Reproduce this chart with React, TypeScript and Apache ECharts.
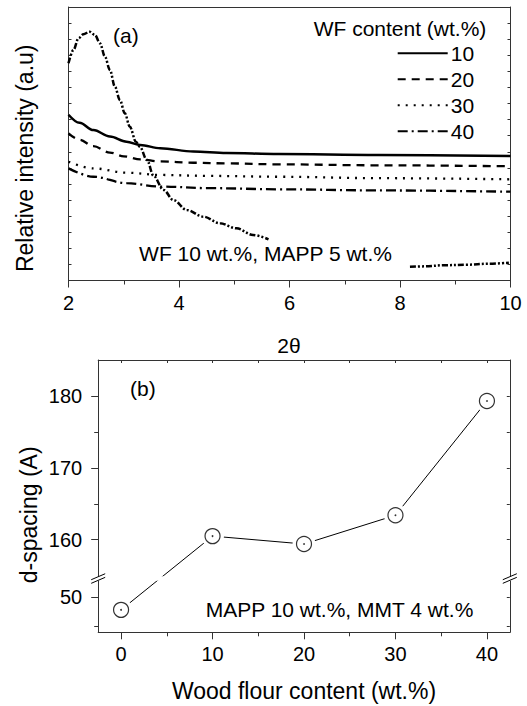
import React, { useEffect, useRef } from "react";
import * as echarts from "echarts";

const FONT = '"Liberation Sans", Arial, Helvetica, sans-serif';

// ---------- Panel (a): XRD patterns ----------
const THETA_MIN = 2;
const THETA_MAX = 10;
const THETA_STEP = 2;
const INT_MIN = 0;
const INT_MAX = 17;

const XRD_WF10: number[][] = [
  [2.0, 10.3], [2.2, 9.8], [2.45, 9.35], [2.75, 8.95], [3.05, 8.63], [3.3, 8.42],
  [3.66, 8.22], [4.26, 8.02], [4.86, 7.92], [5.8, 7.86], [7.6, 7.8], [10.0, 7.74],
];
const XRD_WF20: number[][] = [
  [2.0, 9.15], [2.2, 8.75], [2.45, 8.35], [2.75, 7.95], [3.0, 7.72], [3.3, 7.53],
  [3.66, 7.4], [4.26, 7.32], [4.86, 7.28], [5.8, 7.22], [7.6, 7.16], [10.0, 7.1],
];
const XRD_WF30: number[][] = [
  [2.0, 7.38], [2.45, 6.97], [3.05, 6.7], [3.66, 6.56], [4.56, 6.5], [5.8, 6.45],
  [7.6, 6.36], [10.0, 6.29],
];
const XRD_WF40: number[][] = [
  [2.0, 6.97], [2.45, 6.45], [3.05, 6.05], [3.66, 5.84], [4.56, 5.74], [5.8, 5.67],
  [7.6, 5.6], [10.0, 5.52],
];
const XRD_MAPP5_A: number[][] = [
  [2.0, 13.5], [2.09, 14.33], [2.18, 15.05], [2.27, 15.3], [2.38, 15.46], [2.48, 15.26],
  [2.57, 14.74], [2.66, 13.91], [2.75, 13.08], [2.84, 12.05], [2.93, 11.22], [3.02, 10.39],
  [3.11, 9.56], [3.22, 8.63], [3.29, 8.32], [3.42, 7.49], [3.54, 6.5], [3.72, 5.63],
  [3.9, 5.0], [4.14, 4.38], [4.44, 3.97], [4.74, 3.56], [5.04, 3.24], [5.34, 2.83],
  [5.62, 2.56],
];
const XRD_MAPP5_B: number[][] = [
  [8.18, 0.85], [8.45, 0.88], [8.8, 0.95], [9.2, 0.98], [9.6, 1.04], [9.97, 1.1],
];
const LEGEND_NAMES = ["10", "20", "30", "40"];

// ---------- Panel (b): d-spacing ----------
const WF_CONTENT = [0, 10, 20, 30, 40];
const D_SPACING = [47.8, 160.5, 159.4, 163.4, 179.3];
const B_X_MIN = -2.5;
const B_X_MAX = 42.5;
const B_X_MAJOR = [0, 10, 20, 30, 40];
const B_X_MINOR = [5, 15, 25, 35];
const B_Y_MAJOR = [50, 160, 170, 180];
const B_Y_MINOR = [45, 165, 175];
const B_Y_LOW_MIN = 43.9;
const B_Y_HIGH_MIN = 154.6; // axis break
const B_Y_HIGH_MAX = 185;

// broken axis: lower segment (around 50) is drawn just below the upper one
const LOWER_REF = 50;
const LOWER_AT = 152;
const LOWER_SCALE = 0.8;
const toV = (v: number) => (v > 100 ? v : LOWER_AT + (v - LOWER_REF) * LOWER_SCALE);
const fromV = (v: number) => (v >= B_Y_HIGH_MIN - 0.01 ? v : LOWER_REF + (v - LOWER_AT) / LOWER_SCALE);

const AXIS_COLOR = "#333";

function buildOption(): any {
  const axisLine = { show: true, onZero: false, lineStyle: { color: AXIS_COLOR, width: 1 } };
  const lineSeries = (name: string, data: number[][], type: any, width = 2.3) => ({
    name,
    type: "line",
    xAxisIndex: 0,
    yAxisIndex: 0,
    data,
    symbol: "none",
    showSymbol: false,
    smooth: 0.35,
    smoothMonotone: "x",
    lineStyle: { color: "#000", width, type },
    itemStyle: { color: "#000" },
    z: 3,
  });
  const bData = WF_CONTENT.map((x, i) => [x, toV(D_SPACING[i])]);
  return {
    animation: false,
    backgroundColor: "#fff",
    textStyle: { fontFamily: FONT, color: "#000" },
    grid: [
      { left: 68.5, top: 7, width: 442, height: 273.5, outerBoundsMode: "none", containLabel: false },
      { left: 98.2, top: 360, width: 411.6, height: 272.3, outerBoundsMode: "none", containLabel: false },
    ],
    legend: {
      data: LEGEND_NAMES,
      orient: "vertical",
      left: 396.7,
      top: 42.8,
      padding: 0,
      itemWidth: 50,
      itemHeight: 14,
      itemGap: 5,
      selectedMode: false,
      itemStyle: { opacity: 0, borderWidth: 0 },
      textStyle: { fontSize: 21, fontFamily: FONT, color: "#000", lineHeight: 21, padding: [0, 0, 0, -2] },
    },
    xAxis: [
      {
        type: "value", gridIndex: 0, position: "bottom", min: THETA_MIN, max: THETA_MAX, interval: THETA_STEP,
        axisLine,
        axisTick: { show: true, inside: false, length: 7, lineStyle: { color: AXIS_COLOR } },
        minorTick: { show: true, splitNumber: 2, length: 4, lineStyle: { color: AXIS_COLOR } },
        axisLabel: { fontSize: 20, fontFamily: FONT, color: "#000", margin: 12 },
        splitLine: { show: false },
      },
      {
        type: "value", gridIndex: 0, position: "top", min: THETA_MIN, max: THETA_MAX,
        axisLine, axisTick: { show: false }, axisLabel: { show: false }, splitLine: { show: false },
      },
      {
        type: "value", gridIndex: 1, position: "bottom", min: B_X_MIN, max: B_X_MAX,
        axisLine,
        axisTick: { show: true, inside: false, length: 7, customValues: B_X_MAJOR, lineStyle: { color: AXIS_COLOR } },
        axisLabel: { customValues: B_X_MAJOR, fontSize: 20, fontFamily: FONT, color: "#000", margin: 12 },
        splitLine: { show: false },
      },
      {
        type: "value", gridIndex: 1, position: "bottom", min: B_X_MIN, max: B_X_MAX,
        axisLine: { show: false, onZero: false },
        axisTick: { show: true, inside: false, length: 4, customValues: B_X_MINOR, lineStyle: { color: AXIS_COLOR } },
        axisLabel: { show: false }, splitLine: { show: false },
      },
      {
        type: "value", gridIndex: 1, position: "top", min: B_X_MIN, max: B_X_MAX,
        axisLine,
        axisTick: { show: true, inside: true, length: 3, customValues: [...B_X_MAJOR, ...B_X_MINOR], lineStyle: { color: AXIS_COLOR } },
        axisLabel: { show: false }, splitLine: { show: false },
      },
    ],
    yAxis: [
      {
        type: "value", gridIndex: 0, position: "left", min: INT_MIN, max: INT_MAX, interval: 1,
        axisLine, axisTick: { show: true, inside: true, length: 3, lineStyle: { color: AXIS_COLOR } },
        axisLabel: { show: false }, splitLine: { show: false },
      },
      {
        type: "value", gridIndex: 0, position: "right", min: INT_MIN, max: INT_MAX, interval: 1,
        axisLine, axisTick: { show: true, inside: true, length: 3, lineStyle: { color: AXIS_COLOR } },
        axisLabel: { show: false }, splitLine: { show: false },
      },
      {
        type: "value", gridIndex: 1, position: "left", min: toV(B_Y_LOW_MIN), max: B_Y_HIGH_MAX,
        axisLine,
        axisTick: { show: true, inside: false, length: 7, customValues: B_Y_MAJOR.map(toV), lineStyle: { color: AXIS_COLOR } },
        axisLabel: {
          customValues: B_Y_MAJOR.map(toV), fontSize: 20, fontFamily: FONT, color: "#000", margin: 16,
          formatter: (v: number) => String(Math.round(fromV(v))),
        },
        splitLine: { show: false },
      },
      {
        type: "value", gridIndex: 1, position: "left", min: toV(B_Y_LOW_MIN), max: B_Y_HIGH_MAX,
        axisLine: { show: false, onZero: false },
        axisTick: { show: true, inside: false, length: 4, customValues: B_Y_MINOR.map(toV), lineStyle: { color: AXIS_COLOR } },
        axisLabel: { show: false }, splitLine: { show: false },
      },
      {
        type: "value", gridIndex: 1, position: "right", min: toV(B_Y_LOW_MIN), max: B_Y_HIGH_MAX,
        axisLine,
        axisTick: { show: true, inside: true, length: 3, customValues: [...B_Y_MAJOR, ...B_Y_MINOR].map(toV), lineStyle: { color: AXIS_COLOR } },
        axisLabel: { show: false }, splitLine: { show: false },
      },
    ],
    series: [
      lineSeries("10", XRD_WF10, "solid", 2.5),
      lineSeries("20", XRD_WF20, [8, 6]),
      lineSeries("30", XRD_WF30, [2, 6]),
      lineSeries("40", XRD_WF40, [10, 4, 2, 4]),
      lineSeries("WF 10 MAPP 5 a", XRD_MAPP5_A, [6, 2, 2, 2, 2, 2], 2.5),
      lineSeries("WF 10 MAPP 5 b", XRD_MAPP5_B, [6, 2, 2, 2, 2, 2], 2.5),
      {
        name: "d-spacing line", type: "line", xAxisIndex: 2, yAxisIndex: 2, data: bData,
        symbol: "circle", symbolSize: 23, itemStyle: { color: "#fff", borderWidth: 0 },
        lineStyle: { color: "#000", width: 1 }, z: 2,
      },
      {
        name: "d-spacing", type: "scatter", xAxisIndex: 2, yAxisIndex: 2, data: bData,
        symbol: "circle", symbolSize: 15,
        itemStyle: { color: "#fff", borderColor: "#000", borderWidth: 1.2 }, z: 3,
      },
      {
        name: "d-spacing centre", type: "scatter", xAxisIndex: 2, yAxisIndex: 2, data: bData,
        symbol: "circle", symbolSize: 1.8, itemStyle: { color: "#000" }, z: 4,
      },
    ],
  };
}

function txt(text: string, x: number, y: number, size: number, rotation = 0): any {
  return {
    type: "text", x, y, rotation, z: 100,
    style: {
      text, fontSize: size, fontFamily: FONT, fill: "#000",
      align: "center", verticalAlign: "middle", textAlign: "center", textVerticalAlign: "middle",
    },
  };
}

export default function App() {
  const ref = useRef<HTMLDivElement>(null);
  useEffect(() => {
    if (!ref.current) return;
    const chart = echarts.init(ref.current, null, { renderer: "svg" });
    chart.setOption(buildOption());
    const yB = chart.convertToPixel({ yAxisIndex: 2 }, B_Y_HIGH_MIN) as number;
    const xL = chart.convertToPixel({ xAxisIndex: 2 }, B_X_MIN) as number;
    const xR = chart.convertToPixel({ xAxisIndex: 2 }, B_X_MAX) as number;
    const breakEls: any[] = [
      { type: "rect", z: 99, shape: { x: xL - 9, y: yB - 2.3, width: xR - xL + 18, height: 4.6 }, style: { fill: "#fff" } },
    ];
    [xL, xR].forEach((cx) => {
      [-1.8, 1.8].forEach((dy) => {
        breakEls.push({
          type: "line", z: 101,
          shape: { x1: cx - 7, y1: yB + dy + 3, x2: cx + 7, y2: yB + dy - 3 },
          style: { stroke: "#000", lineWidth: 1 },
        });
      });
    });
    const texts = [
      txt("(a)", 125.8, 35, 21),
      txt("WF content (wt.%)", 400, 28.3, 21),
      txt("WF 10 wt.%, MAPP 5 wt.%", 265.5, 253.3, 21),
      txt("2\u03b8", 289, 345, 21),
      txt("Relative intensity (a.u)", 25, 158.3, 23, Math.PI / 2),
      txt("(b)", 142.8, 388.8, 21),
      txt("MAPP 10 wt.%, MMT 4 wt.%", 339.5, 609.3, 21),
      txt("d-spacing (A)", 28.6, 514.8, 23, Math.PI / 2),
      txt("Wood flour content (wt.%)", 304, 691, 23),
    ];
    chart.setOption({ graphic: [...texts, ...breakEls] });
    return () => chart.dispose();
  }, []);
  return (
    <div
      ref={ref}
      style={{ position: "fixed", left: 0, top: 0, width: 527, height: 706, background: "#fff" }}
    />
  );
}
